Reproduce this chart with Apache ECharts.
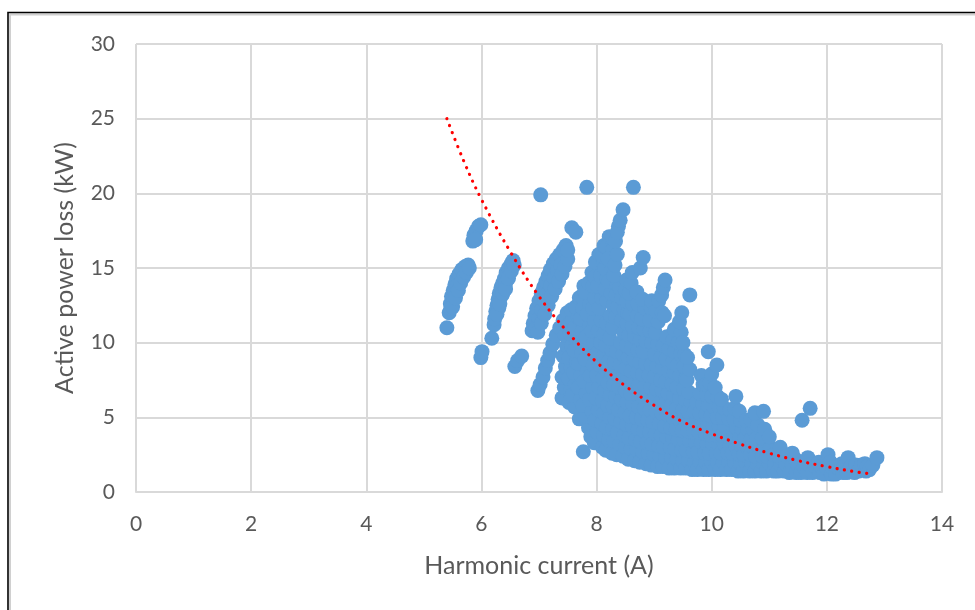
<!DOCTYPE html>
<html>
<head>
<meta charset="utf-8">
<script src="https://cdn.jsdelivr.net/npm/echarts@6/dist/echarts.min.js"></script>
<style>
  html, body { margin: 0; padding: 0; background: #ffffff; }
  #chart { width: 975px; height: 610px; }
</style>
</head>
<body>
<div id="chart"></div>
<script>
// Axis ticks
const xTicks = [0, 2, 4, 6, 8, 10, 12, 14];
const yTicks = [0, 5, 10, 15, 20, 25, 30];

// Measurements: [harmonic current (A), active power loss (kW)]
const groupA = [
  [5.40,11.0],[5.44,12.0],[5.46,12.6],[5.48,13.1],[5.51,13.5],[5.54,13.9],[5.57,14.3],[5.61,14.6],
  [5.66,14.9],[5.72,15.1],[5.77,15.2],[5.47,12.3],[5.52,13.0],[5.58,13.8],
  [5.50,12.4],[5.55,13.0],[5.60,13.5],[5.64,14.0],[5.69,14.4],[5.74,14.7],[5.79,15.0],
  [5.85,16.8],[5.87,17.2],[5.91,17.5],[5.95,17.8],[5.99,17.9],[5.90,16.9],
  [5.99,9.0],[6.01,9.4],[6.18,10.3]
];
const groupB = [
  [6.22,11.2],[6.23,11.6],[6.25,12.1],[6.27,12.5],[6.29,12.9],[6.31,13.3],[6.34,13.7],[6.37,14.0],
  [6.40,14.3],[6.43,14.7],[6.47,15.0],[6.52,15.3],[6.55,15.5],[6.30,12.3],[6.36,13.2],[6.42,14.0],
  [6.27,11.9],[6.32,12.6],[6.37,13.3],[6.42,13.6],[6.47,14.3],[6.52,14.8],[6.57,15.2],
  [6.58,8.4],[6.63,8.8],[6.70,9.1]
];
const groupC = [
  [6.88,10.8],[6.90,11.3],[6.93,11.8],[6.96,12.3],[7.00,12.8],[7.04,13.3],[7.08,13.7],[7.12,14.1],
  [7.16,14.5],[7.20,14.9],[7.25,15.3],[7.30,15.6],[7.36,15.9],[7.42,16.2],[7.47,16.5],
  [6.95,11.0],[7.00,11.6],[7.05,12.2],[7.10,12.8],[7.15,13.3],[7.20,13.8],[7.26,14.3],[7.32,14.8],[7.38,15.2],
  [6.98,10.7],[7.04,11.3],[7.10,11.9],[7.16,12.5],[7.22,13.1],[7.28,13.6],[7.34,14.1],[7.40,14.6],
  [7.45,15.1],[7.50,15.6],[7.50,16.2],
  [7.57,17.7],[7.64,17.4]
];
const groupD = [
  [6.98,6.8],[7.02,7.2],[7.07,7.7],[7.11,8.3],[7.15,8.8],[7.19,9.3],[7.24,9.9],[7.30,10.5],
  [7.36,11.0],[7.42,11.5],[7.49,12.0],
  [7.40,6.3],[7.44,7.0],[7.40,7.7],[7.46,8.4],[7.42,9.1],[7.48,9.8],[7.45,10.5],[7.52,11.2],
  [7.52,6.0],[7.55,6.8],[7.51,7.6],[7.56,8.3],[7.52,9.0],[7.57,9.8],[7.54,10.6],[7.58,11.5],[7.56,12.2],
  [7.62,5.7],[7.58,6.5],[7.63,7.2],[7.60,8.0],[7.65,8.7],[7.61,9.5],[7.66,10.2],[7.62,11.0],[7.68,11.7],[7.64,12.4],[7.70,13.0],
  [7.70,4.9],[7.72,6.2],[7.68,7.0],[7.73,7.8],[7.69,8.6],[7.74,9.3],[7.70,10.1],[7.75,10.8],[7.72,11.6],[7.76,12.3],[7.74,13.1],[7.78,13.8],
  [7.77,2.7],[7.86,4.3],[7.80,5.1],[7.76,5.8],[7.82,6.6],[7.78,7.4],[7.84,8.1],[7.80,8.9],[7.86,9.6],[7.82,10.4],
  [7.88,11.1],[7.84,11.9],[7.88,12.6],[7.80,13.4],[7.86,14.0],[7.92,14.7],
  [7.90,3.7],[7.92,5.4],[7.88,6.2],[7.93,7.0],[7.89,7.8],[7.94,8.5],[7.95,10.0],[7.92,10.8],
  [7.96,11.5],[7.93,12.3],[7.97,13.0],[7.94,13.8],[7.97,14.4]
];
const groupE = [
  [7.96,3.3],[8.01,4.0],[7.97,4.8],[8.03,5.5],[7.99,6.3],[8.04,7.0],[8.00,7.8],[8.06,8.5],[8.02,9.3],[8.07,10.0],
  [8.03,10.8],[8.08,11.5],[8.04,12.3],[8.09,13.0],[8.02,13.8],[8.07,14.5],[7.98,15.4],[8.04,15.9],[8.12,15.3],
  [8.10,3.0],[8.12,3.8],[8.09,4.6],[8.13,5.3],[8.10,6.1],[8.14,6.8],[8.11,7.6],[8.15,8.3],[8.12,9.1],[8.16,9.8],
  [8.13,10.6],[8.17,11.3],[8.18,12.8],[8.15,13.6],[8.18,14.3],[8.14,15.0],[8.10,15.8],[8.13,16.5],
  [8.16,2.8],[8.21,3.5],[8.17,4.3],[8.23,5.0],[8.19,5.8],[8.24,6.5],[8.20,7.3],[8.26,8.0],[8.22,8.8],[8.27,9.5],
  [8.23,10.3],[8.28,11.0],[8.24,11.8],[8.29,12.5],[8.25,13.3],[8.21,14.1],[8.26,14.8],[8.17,16.4],[8.22,17.1],[8.28,16.2],[8.20,15.6],
  [8.27,2.6],[8.30,3.4],[8.28,4.2],[8.32,4.9],[8.29,5.7],[8.33,6.4],[8.30,7.2],[8.34,7.9],[8.31,8.7],[8.35,9.4],
  [8.33,11.7],[8.37,12.4],[8.34,13.2],[8.36,13.9],[8.28,17.0],[8.38,17.8],
  [8.35,2.5],[8.40,3.2],[8.36,4.0],[8.42,4.7],[8.38,5.5],[8.43,6.2],[8.39,7.0],[8.45,7.7],[8.41,8.5],[8.46,9.2],
  [8.42,10.0],[8.47,10.7],[8.43,11.5],[8.48,12.2],[8.44,13.0],[8.40,13.7],[8.30,14.5],[8.32,15.2],[8.36,15.9],
  [8.33,16.8],[8.36,17.4],[8.41,18.2],[8.46,18.9]
];
const groupF = [
  [8.46,2.4],[8.50,3.0],[8.48,3.8],[8.52,4.5],[8.49,5.3],[8.53,6.0],[8.50,6.8],[8.54,7.5],[8.51,8.3],[8.55,9.0],
  [8.52,9.8],[8.56,10.5],[8.53,11.3],[8.54,12.0],[8.52,12.8],[8.50,13.5],[8.52,14.2],
  [8.55,2.2],[8.60,2.9],[8.56,3.6],[8.62,4.4],[8.58,5.1],[8.63,5.9],[8.59,6.6],[8.64,7.4],[8.60,8.1],[8.65,8.9],
  [8.61,9.6],[8.66,10.4],[8.62,11.1],[8.58,11.9],[8.63,12.6],[8.57,13.3],[8.60,14.0],[8.62,14.7],
  [8.66,2.1],[8.70,2.8],[8.68,3.5],[8.72,4.2],[8.69,5.0],[8.73,5.7],[8.74,7.2],[8.71,8.0],[8.75,8.7],
  [8.72,9.5],[8.76,10.2],[8.73,11.0],[8.71,11.8],[8.72,12.6],[8.70,13.4],
  [8.75,2.0],[8.80,2.7],[8.76,3.4],[8.82,4.1],[8.78,4.9],[8.83,5.6],[8.79,6.4],[8.84,7.1],[8.80,7.9],[8.85,8.6],
  [8.81,9.4],[8.86,10.1],[8.82,10.9],[8.78,11.6],[8.84,12.3],[8.80,12.9],[8.76,15.0],[8.81,15.7],
  [8.86,1.9],[8.90,2.6],[8.88,3.3],[8.92,4.0],[8.89,4.8],[8.93,5.5],[8.90,6.3],[8.94,7.0],[8.91,7.8],[8.95,8.5],
  [8.96,10.0],[8.93,10.8],[8.92,11.5],[8.95,12.3],[8.96,12.8],
  [8.95,1.8],[9.00,2.5],[8.96,3.2],[9.02,3.9],[8.98,4.7],[9.03,5.4],[8.99,6.2],[9.04,6.9],[9.00,7.7],[9.05,8.4],
  [9.01,9.2],[9.06,9.9],[9.02,10.7],[9.07,11.4],[9.03,12.1],[9.08,12.8]
];
const groupG = [
  [9.06,1.7],[9.10,2.4],[9.08,3.1],[9.12,3.8],[9.09,4.6],[9.13,5.3],[9.10,6.0],[9.14,6.8],[9.11,7.5],[9.15,8.3],
  [9.12,9.0],[9.16,9.8],[9.14,12.0],
  [9.15,1.7],[9.20,2.3],[9.16,3.0],[9.22,3.7],[9.18,4.4],[9.23,5.2],[9.19,5.9],[9.24,6.6],[9.20,7.4],[9.25,8.1],
  [9.21,8.9],[9.26,9.6],[9.22,10.4],[9.18,11.8],[9.13,13.2],[9.16,13.7],[9.19,14.2],
  [9.26,1.6],[9.30,2.3],[9.28,3.0],[9.32,3.6],[9.29,4.3],[9.33,5.0],[9.30,5.8],[9.34,6.5],[9.31,7.2],[9.35,8.0],
  [9.32,8.7],[9.36,9.4],[9.33,10.2],[9.35,10.9],
  [9.35,1.6],[9.40,2.2],[9.36,2.9],[9.42,3.5],[9.38,4.2],[9.43,4.9],[9.39,5.6],[9.44,6.3],[9.40,7.0],[9.45,7.8],
  [9.41,8.5],[9.46,9.2],[9.42,10.0],[9.47,10.7],[9.44,11.4],[9.48,12.0],
  [9.46,1.6],[9.50,2.1],[9.48,2.8],[9.52,3.5],[9.49,4.1],[9.53,4.8],[9.50,5.5],[9.54,6.2],[9.51,6.9],[9.55,7.6],
  [9.52,8.4],[9.53,9.2],[9.50,10.0],
  [9.55,1.6],[9.60,2.1],[9.56,2.8],[9.62,3.4],[9.58,4.1],[9.63,4.7],[9.59,5.4],[9.64,6.0],[9.60,6.7],[9.57,7.5],
  [9.62,8.2],[9.58,9.0],[9.62,13.2],
  [9.66,1.5],[9.70,2.0],[9.68,2.7],[9.72,3.3],[9.69,4.0],[9.73,4.7],[9.70,5.4],[9.74,6.0],
  [9.75,1.5],[9.80,2.0],[9.76,2.7],[9.82,3.3],[9.78,4.0],[9.83,4.6],[9.79,5.3],[9.84,5.9],[9.80,6.6],[9.85,7.2],[9.82,7.8],
  [9.86,1.5],[9.90,2.0],[9.88,2.6],[9.92,3.2],[9.89,3.9],[9.93,4.5],[9.90,5.2],[9.94,5.8],[9.91,6.5],[9.90,7.2]
];
const groupH = [
  [9.95,1.5],[10.00,2.0],[9.96,2.6],[10.02,3.2],[9.98,3.8],[10.03,4.4],[9.99,5.1],[10.04,5.7],[10.00,6.4],[9.97,7.3],
  [10.00,7.9],[10.09,8.5],[9.94,9.4],
  [10.06,1.5],[10.10,2.0],[10.08,2.6],[10.12,3.2],[10.09,3.8],[10.13,4.4],[10.10,5.0],[10.13,5.7],[10.10,6.4],[10.06,7.0],
  [10.15,1.5],[10.20,2.0],[10.16,2.6],[10.22,3.2],[10.18,3.8],[10.23,4.4],[10.19,5.0],[10.22,5.6],[10.17,6.2],
  [10.26,1.5],[10.30,2.0],[10.28,2.6],[10.32,3.1],[10.29,3.7],[10.30,4.9],[10.32,5.5],
  [10.35,1.5],[10.40,2.0],[10.36,2.6],[10.42,3.1],[10.38,3.7],[10.43,4.3],[10.39,4.9],[10.40,5.6],[10.42,6.4],
  [10.46,1.4],[10.50,1.9],[10.48,2.5],[10.52,3.1],[10.49,3.6],[10.53,4.2],[10.50,4.8],[10.48,5.4],
  [10.55,1.4],[10.60,1.9],[10.56,2.5],[10.62,3.0],[10.58,3.6],[10.63,4.2],[10.60,4.8],
  [10.66,1.4],[10.70,1.9],[10.68,2.5],[10.72,3.0],[10.69,3.6],[10.72,4.2],[10.68,4.8],
  [10.75,1.4],[10.80,1.9],[10.76,2.4],[10.82,3.0],[10.78,3.6],[10.80,4.5],[10.75,5.3],[10.90,5.4],
  [10.86,1.4],[10.90,1.9],[10.88,2.4],[10.92,3.0],[10.88,3.6],[10.92,4.2]
];
const groupI = [
  [10.95,1.4],[11.00,1.9],[10.96,2.4],[11.02,3.0],[11.00,3.7],
  [11.08,1.4],[11.10,1.9],[11.08,2.5],
  [11.15,1.4],[11.20,1.8],[11.17,2.4],[11.19,3.0],
  [11.26,1.4],[11.28,1.9],[11.30,2.4],
  [11.35,1.3],[11.40,1.8],[11.45,2.2],[11.40,2.6],
  [11.47,1.3],[11.50,1.8],
  [11.55,1.3],[11.60,1.7],[11.67,2.3],[11.57,4.8],[11.71,5.6],
  [11.66,1.3],[11.70,1.8],
  [11.75,1.3],[11.80,1.7],[11.86,2.0],
  [11.88,1.3],[11.90,1.7],
  [11.95,1.2],[12.00,1.6],[12.02,2.5],[12.06,2.0],
  [12.08,1.2],[12.10,1.6],
  [12.15,1.2],[12.20,1.6],[12.26,1.9],
  [12.28,1.3],[12.30,1.7],
  [12.35,1.3],[12.37,2.3],[12.42,1.7],
  [12.48,1.3],[12.50,1.8],
  [12.55,1.4],[12.60,1.8],[12.66,1.9],
  [12.68,1.4],[12.70,1.7],
  [12.74,1.5],[12.80,1.8],[12.87,2.3]
];
const isolated = [[7.03,19.9],[7.83,20.4],[8.64,20.4]];

// Exponential trendline, sampled along its course
const trendX = [5.4, 5.7, 6.0, 6.5, 7.0, 7.5, 8.0, 8.5, 9.0, 9.5, 10.0, 10.5, 11.0, 11.5, 12.0, 12.5, 12.8];
const trendY = [25.0, 22.1, 19.6, 16.1, 13.1, 10.7, 8.7, 7.1, 5.8, 4.7, 3.9, 3.2, 2.6, 2.1, 1.7, 1.35, 1.2];

const measurements = [].concat(groupA, groupB, groupC, groupD, groupE, groupF, groupG, groupH, groupI, isolated);
const trend = trendX.map((x, i) => [x, trendY[i]]);

const FONT = 'Lato, "Open Sans", sans-serif';
const TEXT = '#595959';
const GRID = '#D9D9D9';

const chart = echarts.init(document.getElementById('chart'), null, { renderer: 'canvas' });
chart.setOption({
  animation: false,
  backgroundColor: '#ffffff',
  grid: { left: 136, top: 44, right: 33, bottom: 118, containLabel: false },
  xAxis: {
    type: 'value',
    min: xTicks[0], max: xTicks[xTicks.length - 1], interval: 2,
    name: 'Harmonic current (A)',
    nameLocation: 'middle', nameGap: 61,
    nameTextStyle: { fontFamily: FONT, fontSize: 25, color: TEXT },
    axisLine: { show: true, lineStyle: { color: GRID, width: 2 } },
    axisTick: { show: false },
    axisLabel: { fontFamily: FONT, fontSize: 21, color: TEXT, margin: 22 },
    splitLine: { show: true, lineStyle: { color: GRID, width: 2 } }
  },
  yAxis: {
    type: 'value',
    min: yTicks[0], max: yTicks[yTicks.length - 1], interval: 5,
    name: 'Active power loss (kW)',
    nameLocation: 'middle', nameGap: 59,
    nameTextStyle: { fontFamily: FONT, fontSize: 25, color: TEXT },
    axisLine: { show: false },
    axisTick: { show: false },
    axisLabel: { fontFamily: FONT, fontSize: 21, color: TEXT, margin: 21 },
    splitLine: { show: true, lineStyle: { color: GRID, width: 2 } }
  },
  series: [
    {
      type: 'scatter',
      data: measurements,
      symbol: 'circle',
      symbolSize: 15,
      itemStyle: { color: '#5B9BD5', opacity: 1 },
      silent: true
    },
    {
      type: 'line',
      data: trend,
      smooth: 0.4,
      showSymbol: false,
      symbol: 'none',
      lineStyle: { color: '#FF0000', width: 3.2, type: [0.1, 7.4], cap: 'round' },
      silent: true,
      z: 5
    }
  ],
  graphic: [
    { type: 'rect', silent: true, z: 100,
      shape: { x: 10, y: 14.5, width: 1200, height: 800 },
      style: { fill: 'none', stroke: '#D0D0D0', lineWidth: 2 } },
    { type: 'rect', silent: true, z: 101,
      shape: { x: 8, y: 12.5, width: 1200, height: 800 },
      style: { fill: 'none', stroke: '#000000', lineWidth: 1.6 } }
  ]
});
</script>
</body>
</html>
